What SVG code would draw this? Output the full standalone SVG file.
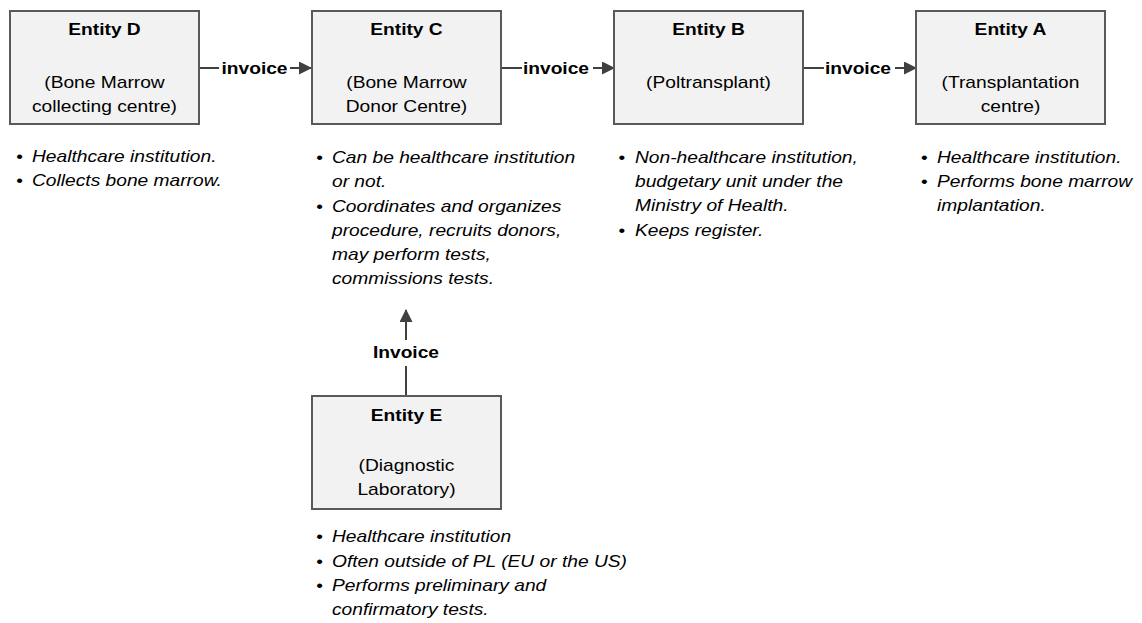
<svg xmlns="http://www.w3.org/2000/svg" width="1142" height="623" viewBox="0 0 1142 623">
<style>
.box{fill:#f2f2f2;stroke:#595959;stroke-width:2}
.t{font-family:"Liberation Sans",Arial,sans-serif;font-size:16px;fill:#000}
.b{font-weight:bold;text-anchor:middle}
.c{text-anchor:middle}
.i{font-style:italic}
.ln{stroke:#404040;stroke-width:2;fill:none}
</style>
<defs>
<marker id="ah" markerWidth="13" markerHeight="13" refX="12" refY="6.5" orient="auto" markerUnits="userSpaceOnUse" viewBox="0 0 13 13">
<path d="M0,0 L13,6.5 L0,13 Z" fill="#404040"/>
</marker>
</defs>
<rect width="1142" height="623" fill="#fff"/>
<g id="connectors">
<line class="ln" x1="200" y1="68" x2="219" y2="68"/>
<line class="ln" x1="290" y1="68" x2="311" y2="68" marker-end="url(#ah)"/>
<line class="ln" x1="501" y1="68" x2="522" y2="68"/>
<line class="ln" x1="593" y1="68" x2="614" y2="68" marker-end="url(#ah)"/>
<line class="ln" x1="803" y1="68" x2="824" y2="68"/>
<line class="ln" x1="895" y1="68" x2="916" y2="68" marker-end="url(#ah)"/>
<line class="ln" x1="406" y1="395" x2="406" y2="366"/>
<line class="ln" x1="406" y1="340" x2="406" y2="310" marker-end="url(#ah)"/>
<g transform="scale(1.2 1)">
<text class="t b" x="212.08" y="74">invoice</text>
<text class="t b" x="463.33" y="74">invoice</text>
<text class="t b" x="715" y="74">invoice</text>
<text class="t b" x="338.33" y="358">Invoice</text>
</g>
</g>
<g id="entityD">
<rect class="box" x="10" y="11" width="189" height="113"/>
<g transform="scale(1.2 1)">
<text class="t b" x="87.08" y="35">Entity D</text>
<text class="t c" x="87.08" y="88">(Bone Marrow</text>
<text class="t c" x="87.08" y="112">collecting centre)</text>
<text class="t" x="13.5" y="162">•</text><text class="t i" x="26.67" y="162">Healthcare institution.</text>
<text class="t" x="13.5" y="186">•</text><text class="t i" x="26.67" y="186">Collects bone marrow.</text>
</g>
</g>
<g id="entityC">
<rect class="box" x="312" y="11" width="189" height="113"/>
<g transform="scale(1.2 1)">
<text class="t b" x="338.75" y="35">Entity C</text>
<text class="t c" x="338.75" y="88">(Bone Marrow</text>
<text class="t c" x="338.75" y="112">Donor Centre)</text>
<text class="t" x="263.5" y="163">•</text><text class="t i" x="276.67" y="163">Can be healthcare institution</text>
<text class="t i" x="276.67" y="187">or not.</text>
<text class="t" x="263.5" y="212">•</text><text class="t i" x="276.67" y="212">Coordinates and organizes</text>
<text class="t i" x="276.67" y="236">procedure, recruits donors,</text>
<text class="t i" x="276.67" y="260">may perform tests,</text>
<text class="t i" x="276.67" y="284">commissions tests.</text>
</g>
</g>
<g id="entityB">
<rect class="box" x="614" y="11" width="189" height="113"/>
<g transform="scale(1.2 1)">
<text class="t b" x="590.42" y="35">Entity B</text>
<text class="t c" x="590.42" y="88">(Poltransplant)</text>
<text class="t" x="515.5" y="163">•</text><text class="t i" x="529.17" y="163">Non-healthcare institution,</text>
<text class="t i" x="529.17" y="187">budgetary unit under the</text>
<text class="t i" x="529.17" y="211">Ministry of Health.</text>
<text class="t" x="515.5" y="236">•</text><text class="t i" x="529.17" y="236">Keeps register.</text>
</g>
</g>
<g id="entityA">
<rect class="box" x="916" y="11" width="189" height="113"/>
<g transform="scale(1.2 1)">
<text class="t b" x="842.08" y="35">Entity A</text>
<text class="t c" x="842.08" y="88">(Transplantation</text>
<text class="t c" x="842.08" y="112">centre)</text>
<text class="t" x="767.5" y="163">•</text><text class="t i" x="780.83" y="163">Healthcare institution.</text>
<text class="t" x="767.5" y="187">•</text><text class="t i" x="780.83" y="187">Performs bone marrow</text>
<text class="t i" x="780.83" y="211">implantation.</text>
</g>
</g>
<g id="entityE">
<rect class="box" x="312" y="396" width="189" height="113"/>
<g transform="scale(1.2 1)">
<text class="t b" x="338.75" y="421">Entity E</text>
<text class="t c" x="338.75" y="471">(Diagnostic</text>
<text class="t c" x="338.75" y="495">Laboratory)</text>
<text class="t" x="263.5" y="542">•</text><text class="t i" x="276.67" y="542">Healthcare institution</text>
<text class="t" x="263.5" y="567">•</text><text class="t i" x="276.67" y="567">Often outside of PL (EU or the US)</text>
<text class="t" x="263.5" y="591">•</text><text class="t i" x="276.67" y="591">Performs preliminary and</text>
<text class="t i" x="276.67" y="615">confirmatory tests.</text>
</g>
</g>
</svg>
